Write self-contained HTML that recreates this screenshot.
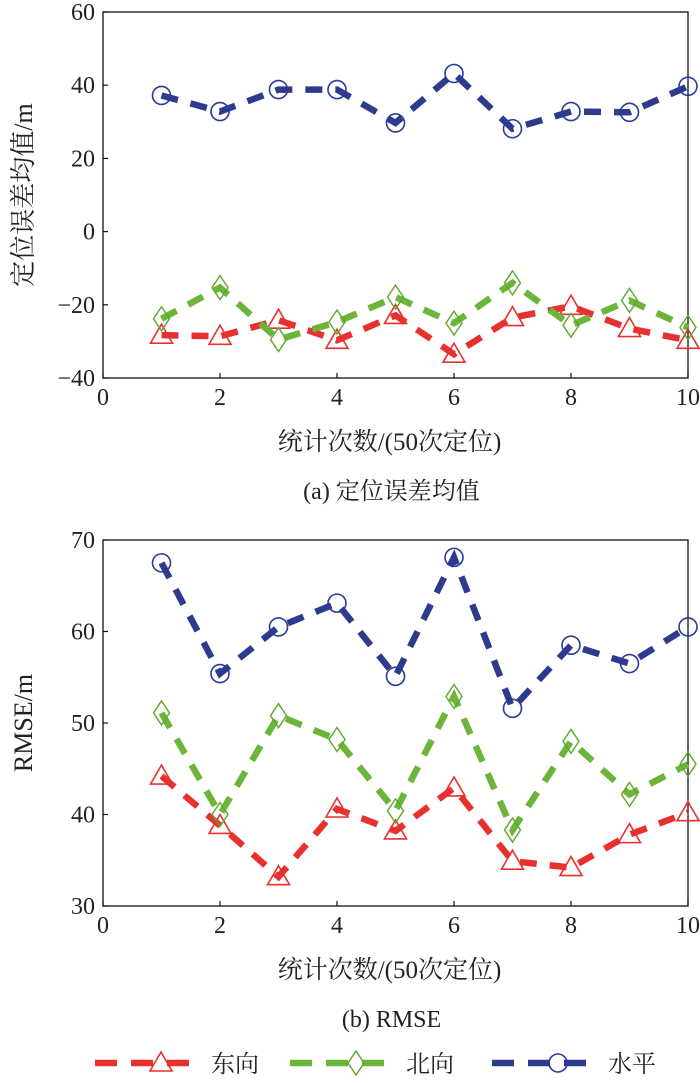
<!DOCTYPE html>
<html><head><meta charset="utf-8">
<style>
html,body{margin:0;padding:0;background:#fff;}
svg{display:block;font-family:"Liberation Serif","Noto Serif CJK SC",serif;}
</style></head>
<body>
<svg id="svg" width="700" height="1083" viewBox="0 0 700 1083" xmlns="http://www.w3.org/2000/svg"></svg>
<script>
const xCats = [1,2,3,4,5,6,7,8,9,10];
const xTicks = [0,2,4,6,8,10];
const topYTicks = [-40,-20,0,20,40,60];
const botYTicks = [30,40,50,60,70];
const topEast = [-28.3,-28.6,-24.2,-29.7,-22.9,-33.5,-23.5,-20.4,-26.5,-29.7];
const topNorth = [-23.8,-15.3,-29.5,-24.7,-17.9,-25.0,-14.0,-25.6,-18.8,-26.2];
const topHoriz = [37.2,32.8,38.8,38.8,29.7,43.2,28.1,32.8,32.6,39.7];
const botEast = [44.2,38.8,33.2,40.6,38.2,42.9,34.9,34.2,37.8,40.2];
const botNorth = [51.1,40.0,50.8,48.2,40.4,52.9,38.3,48.0,42.2,45.5];
const botHoriz = [67.5,55.4,60.5,63.1,55.1,68.1,51.6,58.5,56.5,60.5];

const NS='http://www.w3.org/2000/svg';
const svg=document.getElementById('svg');
function mk(tag,attrs,parent){const e=document.createElementNS(NS,tag);for(const k in attrs)e.setAttribute(k,attrs[k]);(parent||svg).appendChild(e);return e;}
const RED='#e8312e',GREEN='#6cb43a',BLUE='#2e3b8c';
const MRED='#e8312e',MGREEN='#5aaa28',MBLUE='#2a3a9c';

function marker(type,x,y,color,g){
  let e;
  if(type==='tri'){e=mk('polygon',{points:`${x},${y-11} ${x-11},${y+8} ${x+11},${y+8}`,fill:'none',stroke:color,'stroke-width':1.6},g);}
  else if(type==='dia'){e=mk('polygon',{points:`${x},${y-12} ${x+8},${y} ${x},${y+12} ${x-8},${y}`,fill:'none',stroke:color,'stroke-width':1.4},g);}
  else {e=mk('circle',{cx:x,cy:y,r:9,fill:'none',stroke:color,'stroke-width':1.6},g);}
  
  
}

function panel(cfg){
  const {L,R,T,B,ymin,ymax,yTicks,series,ytitle,caption,name}=cfg;
  const g=mk('g',{});
  
  
  const sx=v=>L+(v-0)/(10-0)*(R-L);
  const sy=v=>B-(v-ymin)/(ymax-ymin)*(B-T);
  const frame=mk('rect',{x:L,y:T,width:R-L,height:B-T,fill:'none',stroke:'#111','stroke-width':1.3},g);
  
  
  xTicks.forEach(v=>{
    const t=mk('line',{x1:sx(v),x2:sx(v),y1:B,y2:B-5,stroke:'#111','stroke-width':1.2},g);
    
    
    const tx=mk('text',{x:sx(v),y:B+27,'font-size':24,'text-anchor':'middle',fill:'#222'},g);
    tx.textContent=v;
    
    
  });
  yTicks.forEach(v=>{
    const t=mk('line',{x1:L,x2:L+5,y1:sy(v),y2:sy(v),stroke:'#111','stroke-width':1.2},g);
    
    
    const tx=mk('text',{x:L-8,y:sy(v)+8,'font-size':24,'text-anchor':'end',fill:'#222'},g);
    tx.textContent=(v<0?'\u2212'+(-v):v);
    
    
  });
  series.forEach(s=>{
    const pts=xCats.map((c,i)=>sx(c)+','+sy(s.data[i])).join(' ');
    const pl=mk('polyline',{points:pts,fill:'none',stroke:s.color,'stroke-width':6.5,'stroke-dasharray':'17 13','stroke-linejoin':'miter'},g);
    
    
    xCats.forEach((c,i)=>marker(s.m,sx(c),sy(s.data[i]),s.mc,g));
  });
  const xt=mk('text',{x:(L+R)/2-6,y:B+72,'font-size':25,'text-anchor':'middle',fill:'#222'},g);
  xt.textContent='统计次数/(50次定位)';
  
  
  const cap=mk('text',{x:(L+R)/2-4,y:B+121,'font-size':24,'text-anchor':'middle',fill:'#222'},g);
  cap.textContent=caption;
  
  
  const yt=mk('text',{x:0,y:0,'font-size':26,'text-anchor':'middle',fill:'#222',transform:`translate(32,${(T+B)/2}) rotate(-90)`},g);
  yt.textContent=ytitle;
  
  
}

panel({L:103,R:688,T:12,B:378,ymin:-40,ymax:60,yTicks:topYTicks,ytitle:'定位误差均值/m',caption:'(a) 定位误差均值',name:'mean-error-chart',
  series:[{data:topEast,color:RED,mc:MRED,m:'tri',name:'east'},{data:topNorth,color:GREEN,mc:MGREEN,m:'dia',name:'north'},{data:topHoriz,color:BLUE,mc:MBLUE,m:'circ',name:'horizontal'}]});
panel({L:103,R:688,T:540,B:906,ymin:30,ymax:70,yTicks:botYTicks,ytitle:'RMSE/m',caption:'(b) RMSE',name:'rmse-chart',
  series:[{data:botEast,color:RED,mc:MRED,m:'tri',name:'east'},{data:botNorth,color:GREEN,mc:MGREEN,m:'dia',name:'north'},{data:botHoriz,color:BLUE,mc:MBLUE,m:'circ',name:'horizontal'}]});

const legend=[{x:95,label:'东向',color:RED,mc:MRED,m:'tri'},{x:290,label:'北向',color:GREEN,mc:MGREEN,m:'dia'},{x:492,label:'水平',color:BLUE,mc:MBLUE,m:'circ'}];
const lg=mk('g',{});


legend.forEach(e=>{
  const g=mk('g',{},lg);
  
  
  mk('line',{x1:e.x,x2:e.x+108,y1:1063,y2:1063,stroke:e.color,'stroke-width':6.5,'stroke-dasharray':'22 14'},g);
  marker(e.m,e.x+66,1063,e.mc,g);
  const t=mk('text',{x:e.x+116,y:1072,'font-size':24,fill:'#222'},g);
  t.textContent=e.label;
  
  
});
</script>
</body></html>
